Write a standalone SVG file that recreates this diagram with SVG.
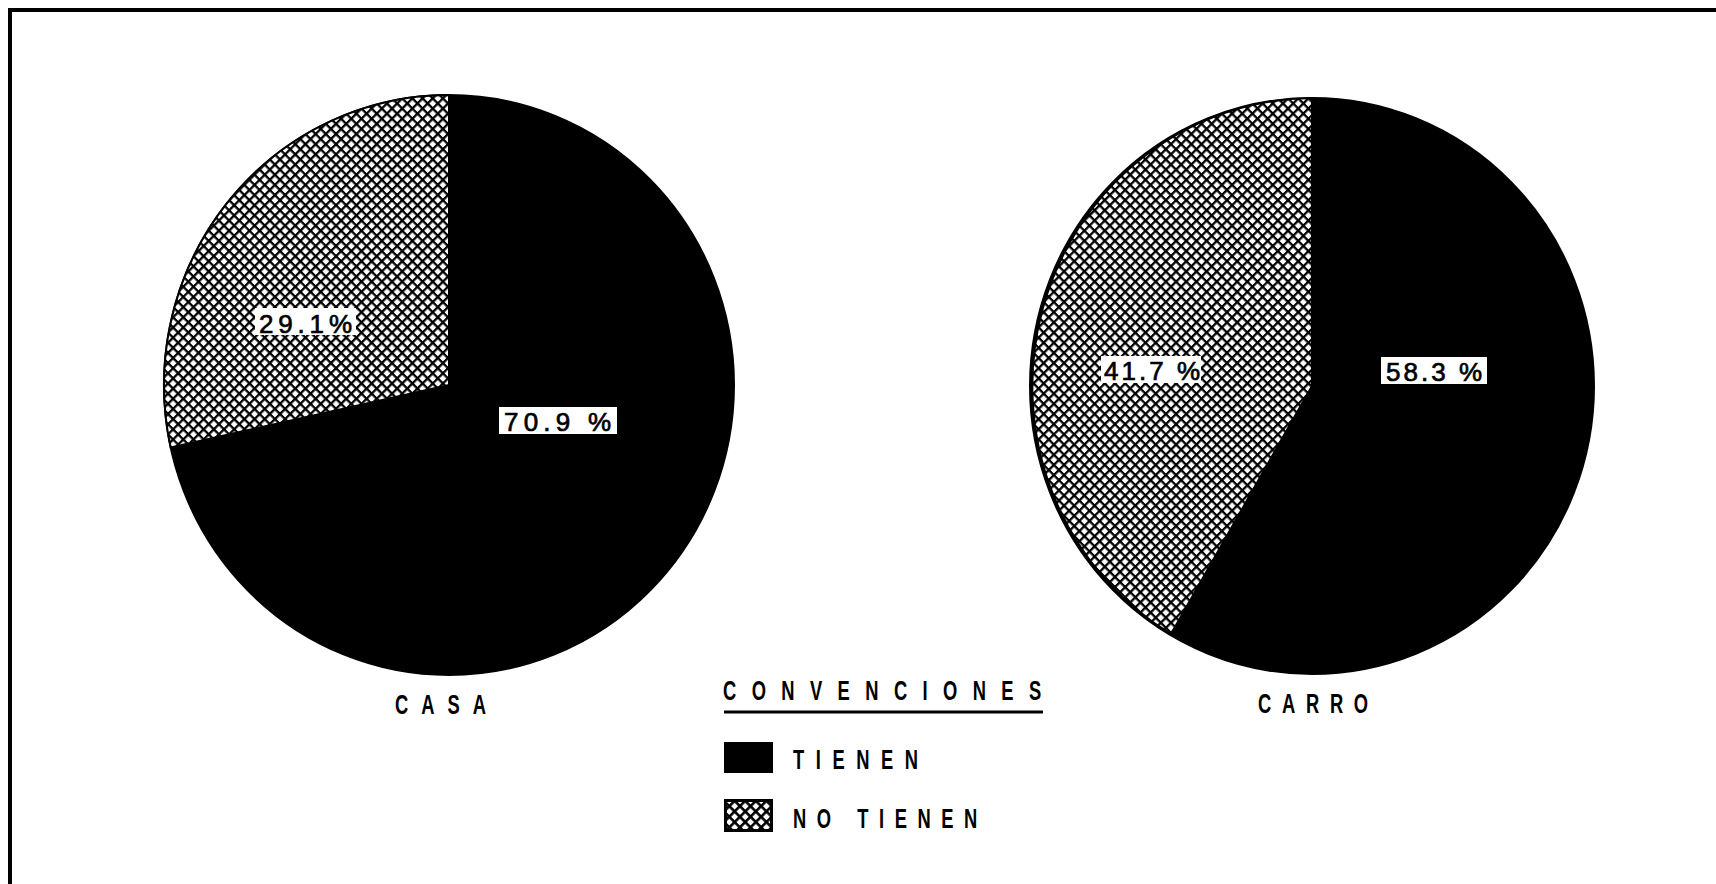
<svg xmlns="http://www.w3.org/2000/svg" width="1716" height="884" viewBox="0 0 1716 884">
  <defs>
    <pattern id="hatch" patternUnits="userSpaceOnUse" width="7.2" height="7.2" patternTransform="rotate(45)">
      <rect width="7.2" height="7.2" fill="#fff"/>
      <rect x="0" y="0" width="7.2" height="2.3" fill="#000"/>
      <rect x="0" y="0" width="2.3" height="7.2" fill="#000"/>
    </pattern>
    <pattern id="hatchLegend" patternUnits="userSpaceOnUse" width="7.5" height="7.5" patternTransform="translate(724 799) rotate(45)">
      <rect width="7.5" height="7.5" fill="#fff"/>
      <rect x="0" y="0" width="7.5" height="2.6" fill="#000"/>
      <rect x="0" y="0" width="2.6" height="7.5" fill="#000"/>
    </pattern>
    <style>
      .pct { font-family: "Liberation Sans", "DejaVu Sans", sans-serif; font-size: 26px; fill: #000; stroke: #000; stroke-width: 0.7; }
      .lbl { font-family: "Liberation Sans", "DejaVu Sans", sans-serif; font-weight: bold; font-size: 27px; fill: #000; }
      .box { fill: #fff; }
      .solid { fill: #000; stroke: #000; stroke-width: 2; }
      .hatched { fill: url(#hatch); stroke: #000; stroke-width: 2; }
    </style>
  </defs>

  <rect width="1716" height="884" fill="#fff"/>

  <g id="frame">
    <line x1="8" y1="10" x2="1716" y2="10" stroke="#000" stroke-width="4"/>
    <line x1="10" y1="8" x2="10" y2="884" stroke="#000" stroke-width="4"/>
  </g>

  <g id="pie-casa">
    <ellipse class="solid" cx="449" cy="385" rx="285" ry="290"/>
    <path class="hatched" d="M449,385 L449,95 A285,290 0 0,0 170.7,447.5 Z"/>
    <rect class="box" x="255" y="308" width="101" height="27"/>
    <text class="pct" x="259" y="333" textLength="93" lengthAdjust="spacing">29.1%</text>
    <rect class="box" x="499" y="407" width="118" height="27"/>
    <text class="pct" x="504" y="431" textLength="107" lengthAdjust="spacing">70.9 %</text>
    <text class="lbl" transform="translate(395,714) scale(0.68,1)" x="0" y="0" textLength="134" lengthAdjust="spacing">CASA</text>
  </g>

  <g id="pie-carro">
    <ellipse class="solid" cx="1312" cy="386" rx="282" ry="288"/>
    <path class="hatched" d="M1312,386 L1312,98 A282,288 0 0,0 1171,634 Z"/>
    <rect class="box" x="1101" y="356" width="100" height="27"/>
    <text class="pct" x="1104" y="380" textLength="96" lengthAdjust="spacing">41.7 %</text>
    <rect class="box" x="1381" y="357" width="106" height="27"/>
    <text class="pct" x="1386" y="381" textLength="96" lengthAdjust="spacing">58.3 %</text>
    <text class="lbl" transform="translate(1258,713) scale(0.68,1)" x="0" y="0" textLength="162" lengthAdjust="spacing">CARRO</text>
  </g>

  <g id="legend">
    <text class="lbl" transform="translate(723,700) scale(0.68,1)" x="0" y="0" textLength="468" lengthAdjust="spacing">CONVENCIONES</text>
    <line x1="724" y1="712" x2="1043" y2="712" stroke="#000" stroke-width="3"/>
    <g id="legend-tienen">
      <rect x="724" y="742" width="49" height="31" fill="#000"/>
      <text class="lbl" transform="translate(793,769) scale(0.68,1)" x="0" y="0" textLength="184" lengthAdjust="spacing">TIENEN</text>
    </g>
    <g id="legend-no-tienen">
      <rect x="725.5" y="800.5" width="46" height="30" fill="url(#hatchLegend)" stroke="#000" stroke-width="3"/>
      <text class="lbl" transform="translate(793,828) scale(0.68,1)" x="0" y="0" textLength="271" lengthAdjust="spacing">NO TIENEN</text>
    </g>
  </g>
</svg>
